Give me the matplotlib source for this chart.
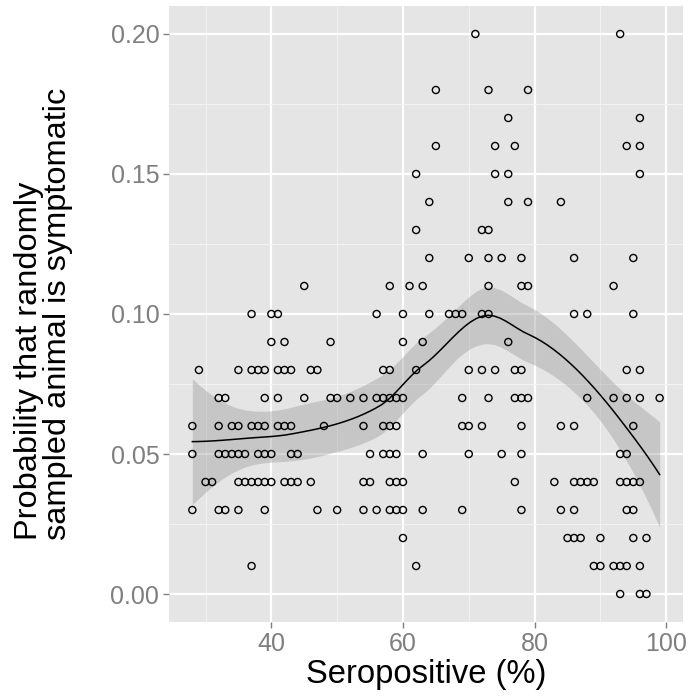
import numpy as np
import matplotlib
matplotlib.use('Agg')
import matplotlib.pyplot as plt
from matplotlib.ticker import MultipleLocator

plt.rcParams['font.family'] = ['Liberation Sans', 'DejaVu Sans']

# points grouped by probability level: x values (seropositive %) at each level
levels = [0.00, 0.01, 0.02, 0.03, 0.04, 0.05, 0.06, 0.07, 0.08, 0.09,
          0.10, 0.11, 0.12, 0.13, 0.14, 0.15, 0.16, 0.17, 0.18, 0.20]
x_at_level = [
    [93, 96, 97],
    [37, 62, 89, 90, 92, 93, 94, 96],
    [60, 85, 86, 87, 90, 95, 97],
    [28, 32, 33, 35, 39, 47, 50, 54, 56, 58, 59, 60, 63, 69, 78, 84, 86, 94, 95],
    [30, 31, 35, 36, 37, 38, 39, 40, 42, 43, 44, 46, 54, 55, 58, 59, 60,
     77, 83, 86, 87, 88, 89, 93, 94, 95, 96],
    [28, 32, 33, 34, 35, 36, 38, 39, 40, 43, 44, 55, 57, 58, 59, 63, 70,
     75, 78, 93, 94],
    [28, 32, 34, 35, 37, 38, 39, 41, 42, 43, 48, 54, 57, 58, 59, 69, 70,
     72, 78, 84, 86, 95],
    [32, 33, 39, 41, 45, 49, 50, 52, 54, 56, 57, 58, 59, 60, 69, 73, 77,
     78, 79, 88, 92, 94, 96, 99],
    [29, 35, 37, 38, 39, 41, 42, 43, 46, 47, 57, 58, 62, 70, 72, 74, 77,
     78, 94, 96],
    [40, 42, 49, 60, 63, 76],
    [37, 40, 41, 56, 60, 64, 67, 68, 69, 72, 73, 86, 88, 95],
    [45, 58, 61, 63, 73, 78, 79, 92],
    [64, 70, 73, 75, 78, 86, 95],
    [62, 72, 73],
    [64, 76, 79, 84],
    [62, 74, 76, 96],
    [65, 74, 77, 94, 96],
    [76, 96],
    [65, 73, 79],
    [71, 93],
]

sero = np.concatenate([np.array(v, float) for v in x_at_level])
prob = np.concatenate([np.full(len(v), p) for v, p in zip(x_at_level, levels)])


def local_rows(x, x0, q):
    # value and slope rows of the local quadratic fit at x0 (tricube weights)
    d = np.abs(x - x0)
    h = np.sort(d)[q - 1]
    w = np.clip(1 - (d / h) ** 3, 0, None) ** 3
    X = np.column_stack([np.ones(len(x)), x - x0, (x - x0) ** 2])
    XtW = X.T * w
    B = np.linalg.solve(XtW @ X, XtW)
    return B[0], B[1]


def kd_vertices(x, fc):
    # 1-d version of the loess kd tree: split cells at the median
    mu = 0.005 * (x.max() - x.min())
    verts = [x.min() - mu, x.max() + mu]

    def split(pts, a, b):
        if len(pts) <= fc:
            return
        s = np.sort(pts)
        m = (1 + len(s)) // 2 - 1
        t = (s[m] + s[m + 1]) / 2
        if t <= a or t >= b:
            return
        verts.append(t)
        split(pts[pts < t], a, t)
        split(pts[pts >= t], t, b)

    split(x, verts[0], verts[1])
    return np.sort(verts)


def loess_operator(x, x_new, span=0.75, cell=0.2):
    n = len(x)
    q = int(np.floor(n * span))
    fc = int(np.floor(n * span * cell))
    v = kd_vertices(x, fc)
    vals, slopes = zip(*[local_rows(x, vi, q) for vi in v])
    vals, slopes = np.array(vals), np.array(slopes)
    rows = []
    for xn in x_new:
        i = min(np.searchsorted(v, xn, side='right') - 1, len(v) - 2)
        h = v[i + 1] - v[i]
        t = (xn - v[i]) / h
        h00 = 2 * t**3 - 3 * t**2 + 1
        h10 = t**3 - 2 * t**2 + t
        h01 = -2 * t**3 + 3 * t**2
        h11 = t**3 - t**2
        rows.append(h00 * vals[i] + h10 * h * slopes[i]
                    + h01 * vals[i + 1] + h11 * h * slopes[i + 1])
    return np.array(rows)


xs = np.linspace(sero.min(), sero.max(), 80)
L = loess_operator(sero, sero)
R = np.eye(len(sero)) - L
rss = np.sum((R @ prob) ** 2)
sigma = np.sqrt(rss / np.trace(R.T @ R))
Lg = loess_operator(sero, xs)
fit = Lg @ prob
se = sigma * np.sqrt(np.sum(Lg ** 2, axis=1))
lo, hi = fit - 1.97 * se, fit + 1.97 * se

fig = plt.figure(figsize=(6.92, 6.97), dpi=100)
ax = fig.add_axes([0.2442, 0.1076, 0.7428, 0.8838])
ax.set_facecolor('#E5E5E5')

ax.xaxis.set_major_locator(MultipleLocator(20))
ax.xaxis.set_minor_locator(MultipleLocator(10))
ax.yaxis.set_major_locator(MultipleLocator(0.05))
ax.yaxis.set_minor_locator(MultipleLocator(0.025))
ax.grid(which='minor', color='#F2F2F2', linewidth=0.8)
ax.grid(which='major', color='white', linewidth=1.6)
ax.set_axisbelow(True)

ax.fill_between(xs, lo, hi, color='#999999', alpha=0.4, linewidth=0, zorder=2)
ax.plot(xs, fit, color='black', linewidth=1.1, zorder=3)
ax.scatter(sero, prob, s=26, facecolors='none', edgecolors='black',
           linewidths=1.0, zorder=4)

ax.set_xlim(24.45, 102.55)
ax.set_ylim(-0.01, 0.21)
ax.set_xticks([40, 60, 80, 100])
ax.set_xticklabels(['40', '60', '80', '100'])
ax.set_yticks([0.00, 0.05, 0.10, 0.15, 0.20])
ax.set_yticklabels(['0.00', '0.05', '0.10', '0.15', '0.20'])

for s in ax.spines.values():
    s.set_visible(False)
ax.tick_params(which='major', length=4, width=1, color='#7F7F7F',
               labelcolor='#7F7F7F', labelsize=18, pad=3)
ax.tick_params(which='minor', length=0)

ax.set_xlabel('Seropositive (%)', fontsize=23.6, labelpad=2)
ax.set_ylabel('Probability that randomly\nsampled animal is symptomatic',
              fontsize=23.4, labelpad=27, linespacing=0.95,
              multialignment='left')

fig.savefig('out.png', dpi=100)
